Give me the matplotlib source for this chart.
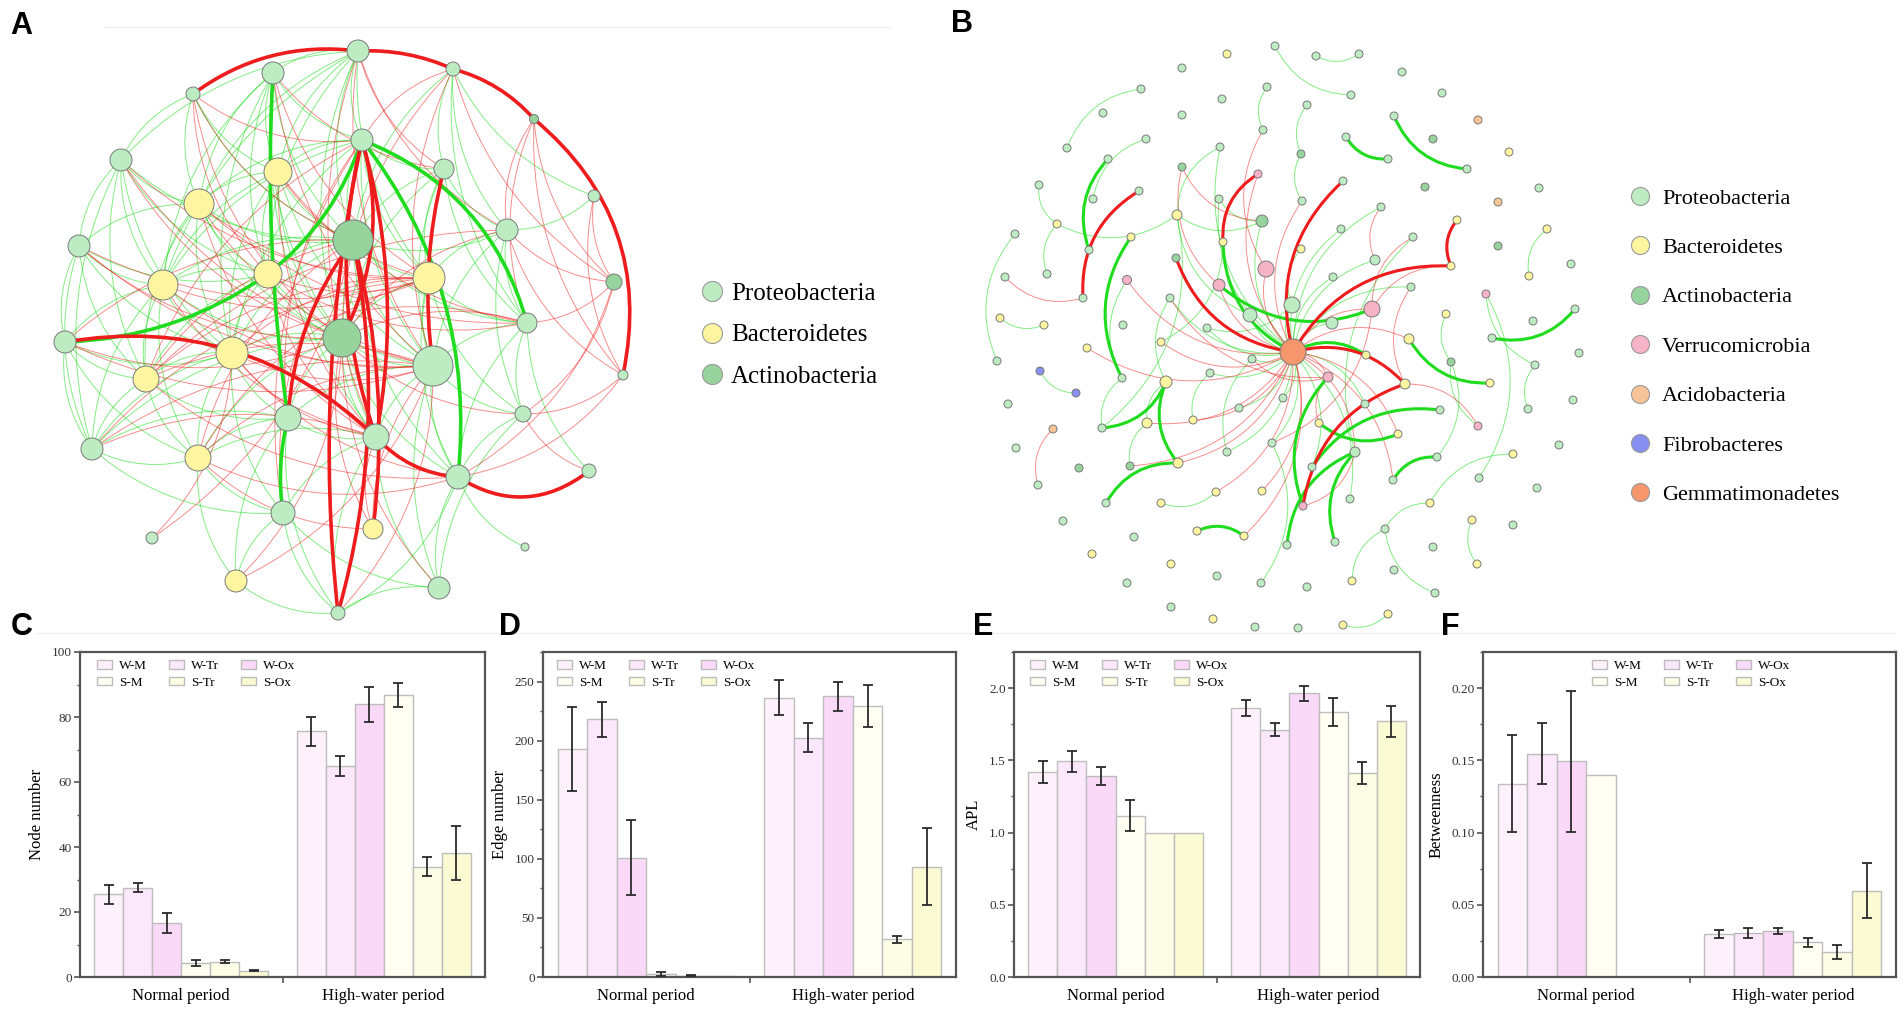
import numpy as np
import matplotlib.pyplot as plt
from matplotlib.patches import Circle, FancyArrowPatch
from matplotlib.lines import Line2D
from matplotlib.ticker import MultipleLocator, FormatStrFormatter

plt.rcParams['font.family'] = ['Liberation Serif', 'DejaVu Serif']

W, H = 1904, 1017

# ---------------- bar chart data (C-F) ----------------
treatments = ["W-M", "W-Tr", "W-Ox", "S-M", "S-Tr", "S-Ox"]
periods = ["Normal period", "High-water period"]
bar_colors = ["#fdf2fc", "#fce8fb", "#fad9f8", "#fefef2", "#fdfde5", "#fbfbd3"]

node_normal = [25.4, 27.5, 16.6, 4.3, 4.7, 1.9]
node_normal_sd = [2.8, 1.4, 3.1, 1.0, 0.5, 0.2]
node_high = [75.6, 64.8, 83.9, 86.8, 34.0, 38.3]
node_high_sd = [4.5, 3.1, 5.3, 3.7, 3.0, 8.3]

edge_normal = [192.8, 218.0, 101.0, 2.5, 1.2, 0.5]
edge_normal_sd = [35.6, 15.0, 31.5, 1.5, 0.6, 0.0]
edge_high = [236.5, 202.5, 237.6, 229.0, 32.0, 93.4]
edge_high_sd = [15.2, 12.4, 12.2, 17.8, 3.0, 32.6]

apl_normal = [1.419, 1.493, 1.391, 1.118, 1.0, 1.0]
apl_normal_sd = [0.077, 0.075, 0.061, 0.11, 0.0, 0.0]
apl_high = [1.864, 1.713, 1.964, 1.833, 1.412, 1.769]
apl_high_sd = [0.055, 0.043, 0.051, 0.096, 0.079, 0.107]

btw_normal = [0.1338, 0.1546, 0.1492, 0.1401, 0.0, 0.0]
btw_normal_sd = [0.0335, 0.021, 0.0485, 0.0, 0.0, 0.0]
btw_high = [0.0297, 0.0302, 0.032, 0.024, 0.0172, 0.0596]
btw_high_sd = [0.003, 0.0034, 0.002, 0.003, 0.005, 0.019]

# ---------------- network data ----------------
phylum_colors = {"P": "#bdebc2", "B": "#fdf5a0", "A": "#97d39d", "V": "#f5b3c5",
                 "C": "#f6c498", "F": "#8790f0", "G": "#f5966c"}
legend_a = [("P", "Proteobacteria"), ("B", "Bacteroidetes"), ("A", "Actinobacteria")]
legend_b = [("P", "Proteobacteria"), ("B", "Bacteroidetes"), ("A", "Actinobacteria"),
            ("V", "Verrucomicrobia"), ("C", "Acidobacteria"), ("F", "Fibrobacteres"),
            ("G", "Gemmatimonadetes")]

# panel A nodes (layout position in px, radius, phylum)
a_x = [358, 273, 193, 453, 534, 362, 121, 278, 444, 199, 79, 353, 507, 268, 163, 429, 527, 65, 342, 232,
       433, 146, 523, 288, 376, 92, 198, 458, 283, 152, 373, 236, 439, 338, 594, 614, 623, 589, 525]
a_y = [51, 73, 94, 69, 119, 140, 160, 172, 169, 204, 246, 240, 230, 274, 285, 278, 323, 342, 338, 353,
       366, 379, 414, 418, 437, 449, 458, 477, 513, 538, 529, 581, 588, 613, 196, 282, 375, 471, 547]
a_r = [11, 11, 7, 7, 4.5, 11, 11, 14, 10, 15, 11, 20, 11, 14, 15, 16, 10, 11, 19, 16,
       20, 13, 8, 13, 13, 11, 13, 12, 12, 6, 10, 11, 11, 7, 6, 8, 5, 7, 4]
a_phylum = "PPPPAPPBPBPAPBBBPPABPBPPPPBPPPBBPPPAPPP"

a_green_thin = [
    (0, 1), (0, 5), (0, 7), (0, 9), (0, 11), (0, 13), (0, 14), (0, 15), (0, 18), (0, 6),
    (1, 5), (1, 7), (1, 9), (1, 11), (1, 13), (1, 14), (1, 18), (1, 19), (1, 24),
    (2, 7), (2, 9), (2, 11), (2, 6), (3, 8), (3, 12), (3, 11), (3, 34), (3, 16),
    (5, 7), (5, 8), (5, 9), (5, 11), (5, 14), (5, 15), (5, 19), (5, 20),
    (6, 9), (6, 10), (6, 13), (6, 14), (6, 19), (6, 21), (6, 11), (6, 25),
    (7, 9), (7, 11), (7, 13), (7, 14), (7, 18), (7, 20), (7, 19),
    (8, 11), (8, 12), (8, 15), (8, 16), (8, 18), (8, 20),
    (9, 10), (9, 11), (9, 14), (9, 18), (9, 19), (9, 21), (9, 13),
    (10, 14), (10, 17), (10, 19), (10, 21), (10, 25), (10, 13),
    (11, 12), (11, 13), (11, 14), (11, 15), (11, 16), (11, 19), (11, 20), (11, 24), (11, 27),
    (12, 15), (12, 16), (12, 20), (12, 22), (12, 34),
    (13, 14), (13, 18), (13, 19), (13, 20), (13, 21),
    (14, 17), (14, 19), (14, 21), (14, 25), (14, 26), (14, 18),
    (15, 16), (15, 20), (15, 22), (15, 27), (15, 18),
    (16, 20), (16, 22), (16, 27), (16, 37),
    (17, 19), (17, 21), (17, 25), (17, 26),
    (18, 19), (18, 20), (18, 23), (18, 24), (18, 25), (18, 26), (18, 27),
    (19, 21), (19, 23), (19, 25), (19, 26), (19, 28),
    (20, 22), (20, 23), (20, 24), (20, 27), (20, 32),
    (21, 25), (21, 26), (21, 23), (22, 27), (22, 32),
    (23, 24), (23, 26), (23, 31), (23, 33), (23, 25),
    (24, 27), (24, 32), (24, 33), (24, 28), (24, 26),
    (25, 26), (25, 28), (26, 28), (26, 31), (27, 32), (27, 38),
    (28, 31), (28, 32), (28, 33), (31, 33), (32, 33), (33, 27)]
a_red_thin = [
    (2, 5), (2, 18), (2, 13), (2, 11), (0, 12), (0, 20), (0, 8), (0, 24),
    (3, 5), (3, 35), (3, 18), (3, 20), (4, 35), (4, 36), (4, 16), (4, 12),
    (1, 15), (1, 20), (1, 8), (5, 21), (5, 23), (5, 28), (6, 18), (6, 15), (6, 20),
    (7, 15), (7, 16), (7, 24), (9, 15), (9, 20), (9, 24), (9, 16),
    (10, 18), (10, 20), (10, 15), (11, 21), (11, 26), (11, 28), (11, 17),
    (12, 35), (12, 36), (12, 21), (12, 18), (13, 16), (13, 24), (13, 15),
    (14, 20), (14, 15), (14, 24), (15, 19), (15, 21), (15, 25), (15, 26),
    (16, 18), (16, 19), (16, 35), (17, 18), (17, 20), (18, 22), (18, 32), (18, 30),
    (19, 20), (19, 27), (19, 24), (20, 21), (20, 25), (20, 26), (20, 30), (21, 27),
    (22, 35), (22, 37), (22, 36), (24, 25), (24, 30), (26, 30), (26, 27),
    (27, 35), (27, 36), (29, 11), (29, 19), (31, 18), (31, 20), (33, 20),
    (34, 35), (34, 36)]
# thick edges: (from, to, curvature)
a_red_thick = [(0, 2, 0.2), (3, 0, 0.12), (4, 3, 0.15), (36, 4, 0.3), (27, 37, 0.35),
               (24, 17, 0.25), (24, 27, 0.2), (5, 24, 0.15), (5, 24, -0.12), (8, 20, 0.1),
               (5, 18, -0.2), (11, 23, 0.15), (33, 11, 0.12), (5, 33, 0.08), (11, 30, -0.1)]
a_green_thick = [(17, 13, 0.15), (13, 5, 0.15), (27, 5, 0.2), (5, 16, -0.25),
                 (1, 23, 0.05), (23, 28, 0.1)]

# panel B nodes
b_x = [1275, 1227, 1182, 1141, 1267, 1222, 1103, 1182, 1067, 1146, 1263, 1220, 1108, 1182, 1258, 1039,
       1093, 1139, 1219, 1177, 1262, 1057, 1015, 1131, 1223, 1089, 1176, 1266, 1005, 1047, 1127, 1219,
       1170, 1083, 1250, 1000, 1044, 1123, 1207,
       1316, 1359, 1402, 1351, 1442, 1307, 1394, 1478, 1433, 1346, 1388, 1509, 1467, 1301, 1343, 1425,
       1539, 1498, 1302, 1381, 1457, 1341, 1547, 1413, 1301, 1498, 1375, 1451, 1571, 1529, 1333, 1411,
       1486, 1292, 1372, 1446, 1575, 1533, 1332,
       1293, 1409, 1366, 1492, 1451, 1490, 1328, 1405, 1579, 1535, 1573, 1528, 1283, 1365, 1440, 1478,
       1319, 1398, 1559, 1355, 1437, 1513, 1312, 1479, 1537, 1393, 1350, 1430, 1303, 1472, 1513, 1385,
       1287, 1335, 1433, 1477, 1394, 1352, 1307, 1435, 1388, 1343, 1298,
       997, 1087, 1161, 1040, 1076, 1122, 1166, 1210, 1252, 1008, 1053, 1102, 1147, 1193, 1239, 1272,
       1016, 1079, 1130, 1178, 1227, 1038, 1106, 1161, 1216, 1262, 1063, 1134, 1197, 1244, 1092, 1171,
       1217, 1261, 1127, 1171, 1213, 1255]
b_y = [46, 54, 68, 89, 87, 99, 113, 115, 148, 139, 130, 147, 159, 167, 174, 185, 199, 191, 199, 215,
       221, 224, 234, 237, 242, 250, 258, 269, 277, 274, 280, 285, 298, 298, 315, 318, 325, 325, 328,
       56, 54, 72, 95, 93, 105, 116, 120, 139, 137, 159, 152, 169, 154, 181, 187, 188, 202, 201, 207,
       220, 229, 229, 237, 249, 246, 260, 266, 264, 276, 277, 287, 294, 305, 309, 314, 309, 321, 323,
       352, 339, 355, 338, 362, 383, 377, 384, 353, 365, 400, 409, 398, 404, 410, 426, 423, 434, 445,
       452, 457, 454, 467, 478, 488, 480, 499, 503, 506, 520, 525, 529, 545, 542, 547, 564, 570, 581,
       587, 593, 614, 625, 628,
       361, 348, 342, 371, 393, 378, 382, 373, 359, 404, 429, 428, 423, 420, 408, 443, 448, 468, 466,
       463, 452, 485, 503, 503, 492, 491, 521, 537, 531, 536, 554, 564, 576, 583, 583, 607, 619, 627]
b_phylum = ("PBPPPPPPPP" "PPPAVPPPPB" "ABPBBPAVPP" "VVPPPBBPP"
            "PPPPPPPCAP" "PBPAPAPCPP" "BPBPBAPBPB" "PPVPVBPPP"
            "GBBPABVBPP" "PPPPPVBBPP" "PBPPPPPBVB" "PPPPPBPBPP" "BBP"
            "PBBFFPBPPP" "CPBBPPPAAB" "PPPBBBPPBB" "BBPPPPBP")
b_big = {19: 5, 20: 6, 27: 8, 30: 4.5, 31: 6, 34: 7, 65: 5, 72: 8, 73: 8, 77: 6, 78: 13,
         79: 5, 84: 5, 85: 5, 97: 5, 127: 6, 133: 5, 140: 5}

b_green_thin = [
    (3, 8), (9, 16), (15, 21), (21, 29), (21, 19), (22, 121), (35, 36), (4, 10), (19, 20), (11, 78),
    (0, 42), (39, 40), (52, 57), (61, 68), (87, 89), (71, 87), (99, 105), (105, 109), (109, 115),
    (109, 117), (107, 113), (119, 118), (124, 125), (126, 132), (132, 19), (127, 133), (133, 139),
    (144, 145), (82, 93), (62, 97), (65, 78), (70, 78), (129, 78), (128, 78), (135, 78), (136, 78),
    (72, 78), (77, 78), (34, 78), (38, 78), (32, 78), (18, 78), (20, 78), (58, 78), (60, 78),
    (69, 78), (90, 78), (91, 78), (100, 78), (104, 78), (141, 78), (123, 24), (154, 136), (19, 34),
    (38, 72), (32, 127), (18, 20), (63, 72), (44, 52), (101, 71), (129, 141), (128, 134), (30, 126),
    (11, 19), (74, 82), (98, 82)]
b_red_thin = [
    (28, 33), (13, 20), (30, 78), (131, 142), (122, 78), (134, 78), (145, 78), (146, 78), (58, 65),
    (27, 78), (73, 78), (84, 78), (31, 78), (14, 78), (57, 78), (93, 85), (79, 78), (95, 78),
    (97, 78), (103, 78), (13, 31), (66, 73), (84, 94), (123, 78), (140, 78), (133, 78), (139, 78),
    (150, 78), (106, 97), (10, 27), (62, 73), (70, 85), (32, 84), (136, 73), (129, 84)]
b_green_thick = [(23, 126), (12, 25), (24, 78), (31, 73), (45, 51), (48, 49), (132, 127), (127, 140),
                 (140, 143), (79, 83), (81, 75), (80, 78), (94, 95), (92, 100), (98, 103), (97, 111),
                 (97, 110), (150, 149), (84, 106)]
b_red_thick = [(17, 33), (14, 24), (26, 78), (53, 78), (59, 66), (66, 78), (85, 78), (85, 106)]

GREEN = "#1fdc1f"
RED = "#ee1c1c"

fig = plt.figure(figsize=(W / 100, H / 100), dpi=100)


def px_axes(x0, y0, x1, y1):
    ax = fig.add_axes([x0 / W, 1 - y1 / H, (x1 - x0) / W, (y1 - y0) / H])
    ax.set_xlim(x0, x1)
    ax.set_ylim(y1, y0)
    ax.axis("off")
    return ax


def draw_edges(ax, xs, ys, edges, color, lw, alpha, rad=0.2, z=1):
    for e in edges:
        i, j = e[0], e[1]
        r = e[2] if len(e) > 2 else rad
        ax.add_patch(FancyArrowPatch((xs[i], ys[i]), (xs[j], ys[j]),
                                     connectionstyle=f"arc3,rad={r}", arrowstyle="-",
                                     color=color, lw=lw, alpha=alpha,
                                     shrinkA=0, shrinkB=0, zorder=z))


def draw_nodes(ax, xs, ys, radii, phyla):
    for x, y, r, p in zip(xs, ys, radii, phyla):
        ax.add_patch(Circle((x, y), r, facecolor=phylum_colors[p], edgecolor="#7a7a7a",
                            lw=0.7, zorder=4))


def net_legend(ax, items, x, y, size, msize, spacing, pad):
    handles = [Line2D([], [], ls="", marker="o", markersize=msize,
                      markerfacecolor=phylum_colors[k], markeredgecolor="#9a9a9a",
                      markeredgewidth=0.8) for k, _ in items]
    ax.legend(handles, [t for _, t in items], loc="upper left",
              bbox_to_anchor=(x / W, 1 - y / H), bbox_transform=fig.transFigure,
              frameon=False, fontsize=size, handlelength=0.8, handletextpad=pad,
              borderpad=0, borderaxespad=0, labelspacing=spacing)


# ---- panel A network ----
axA = px_axes(0, 0, 950, 640)
draw_edges(axA, a_x, a_y, a_green_thin, GREEN, 0.7, 0.55, 0.2)
draw_edges(axA, a_x, a_y, a_red_thin, RED, 0.7, 0.5, 0.2)
draw_edges(axA, a_x, a_y, a_green_thick, GREEN, 2.6, 1.0, z=2)
draw_edges(axA, a_x, a_y, a_red_thick, RED, 2.6, 1.0, z=2)
draw_nodes(axA, a_x, a_y, a_r, a_phylum)
net_legend(axA, legend_a, 702, 282, 18, 14.4, 0.77, 0.36)

# ---- panel B network ----
axB = px_axes(950, 0, 1904, 640)
b_r = [b_big.get(i, 4) for i in range(len(b_x))]
draw_edges(axB, b_x, b_y, b_green_thin, GREEN, 0.7, 0.55, 0.3)
draw_edges(axB, b_x, b_y, b_red_thin, RED, 0.7, 0.5, 0.3)
draw_edges(axB, b_x, b_y, b_green_thick, GREEN, 2.2, 1.0, 0.3, z=2)
draw_edges(axB, b_x, b_y, b_red_thick, RED, 2.2, 1.0, 0.3, z=2)
draw_nodes(axB, b_x, b_y, b_r, b_phylum)
net_legend(axB, legend_b, 1631, 188, 16, 13, 1.3, 0.6)


# ---- bar panels C-F ----
def bar_panel(x0, x1, normal, normal_sd, high, high_sd, ylabel, ymax, step, fmt, leg_dx):
    y0, y1 = 652, 977
    ax = fig.add_axes([x0 / W, 1 - y1 / H, (x1 - x0) / W, (y1 - y0) / H])
    width = 0.143
    centers = np.arange(len(periods))
    handles = []
    for k, name in enumerate(treatments):
        xs = centers + (k - 2.5) * width
        vals = [normal[k], high[k]]
        sds = [normal_sd[k], high_sd[k]]
        b = ax.bar(xs, vals, width, color=bar_colors[k], edgecolor="#bdbdbd", lw=1,
                   label=name, zorder=2)
        handles.append(b)
        for xx, v, s in zip(xs, vals, sds):
            if s > 0:
                ax.errorbar(xx, v, yerr=s, color="#2b2b2b", elinewidth=1.3, capsize=3.5,
                            capthick=1.3, zorder=3)
    ax.set_xlim(-0.5, 1.5)
    ax.set_ylim(0, ymax)
    ax.set_xticks(centers)
    ax.set_xticklabels(periods, fontsize=12)
    ax.set_xticks([0.5], minor=True)
    ax.tick_params(axis="x", which="major", length=0, pad=8)
    ax.tick_params(axis="x", which="minor", length=4, width=1.2, color="#555555")
    ax.yaxis.set_major_locator(MultipleLocator(step))
    ax.yaxis.set_minor_locator(MultipleLocator(step / 2))
    ax.yaxis.set_major_formatter(FormatStrFormatter(fmt))
    ax.tick_params(axis="y", which="major", length=4, width=1.2, labelsize=9.5,
                   color="#555555", labelcolor="#333333", pad=2)
    ax.tick_params(axis="y", which="minor", length=2.5, width=1.0, color="#555555")
    for sp in ax.spines.values():
        sp.set_color("#555555")
        sp.set_linewidth(1.6)
    ax.set_ylabel(ylabel, fontsize=12, labelpad=5)
    order = [0, 3, 1, 4, 2, 5]
    ax.legend([handles[i] for i in order], [treatments[i] for i in order], ncol=3,
              loc="upper left", bbox_to_anchor=(leg_dx / (x1 - x0), 1 - 8 / (y1 - y0)),
              frameon=False, fontsize=9.5, handlelength=1.15, handleheight=0.6,
              handletextpad=0.5, columnspacing=1.7, labelspacing=0.35,
              borderpad=0, borderaxespad=0)
    return ax


bar_panel(80, 485, node_normal, node_normal_sd, node_high, node_high_sd,
          "Node number", 100, 20, "%d", 17)
bar_panel(543, 956, edge_normal, edge_normal_sd, edge_high, edge_high_sd,
          "Edge number", 275, 50, "%d", 14)
bar_panel(1014, 1420, apl_normal, apl_normal_sd, apl_high, apl_high_sd,
          "APL", 2.25, 0.5, "%.1f", 16)
bar_panel(1483, 1896, btw_normal, btw_normal_sd, btw_high, btw_high_sd,
          "Betweenness", 0.225, 0.05, "%.2f", 109)

# panel letters and faint separators
for letter, lx, ly in [("A", 21, 26), ("B", 962, 24), ("C", 22, 627),
                       ("D", 510, 627), ("E", 983, 627), ("F", 1450, 627)]:
    fig.text(lx / W, 1 - ly / H, letter, fontsize=22, fontweight="bold",
             family="Liberation Sans", ha="center", va="center")
fig.add_artist(Line2D([105 / W, 890 / W], [1 - 27 / H, 1 - 27 / H], color="#efefef", lw=1))
fig.add_artist(Line2D([35 / W, 1 - 10 / W], [1 - 633 / H, 1 - 633 / H], color="#f1f1f1", lw=1))

fig.savefig("out.png", dpi=100, facecolor="white")
